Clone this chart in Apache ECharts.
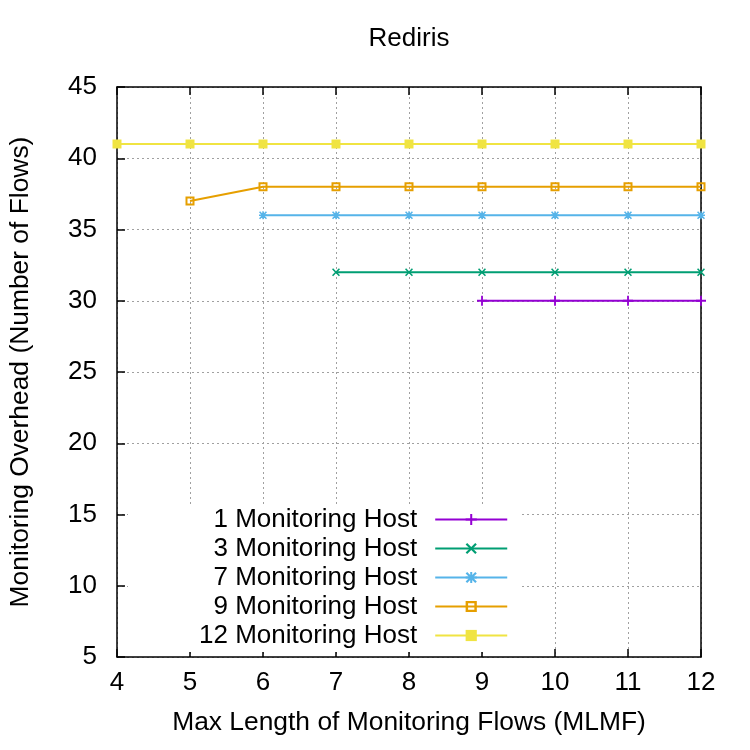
<!DOCTYPE html>
<html>
<head>
<meta charset="utf-8">
<script src="https://cdn.jsdelivr.net/npm/echarts@6/dist/echarts.min.js"></script>
<style>
  html, body { margin: 0; padding: 0; background: #fff; }
  #main { width: 750px; height: 750px; }
</style>
</head>
<body>
<div id="main"></div>
<script>
// x positions (MLMF)
var xValues = [4, 5, 6, 7, 8, 9, 10, 11, 12];
// one value per x, null where the series has no point
var host1  = [null, null, null, null, null, 30, 30, 30, 30];
var host3  = [null, null, null, 32, 32, 32, 32, 32, 32];
var host7  = [null, null, 36, 36, 36, 36, 36, 36, 36];
var host9  = [null, 37, 38, 38, 38, 38, 38, 38, 38];
var host12 = [41, 41, 41, 41, 41, 41, 41, 41, 41];
var seriesNames = ['1 Monitoring Host', '3 Monitoring Host', '7 Monitoring Host', '9 Monitoring Host', '12 Monitoring Host'];
var seriesColors = ['#9400d3', '#009e73', '#56b4e9', '#e69f00', '#f0e442'];

var FONT = '"Liberation Sans", Arial, sans-serif';

var plusPath = 'path://M4.1,0H5.9V4.1H10V5.9H5.9V10H4.1V5.9H0V4.1H4.1Z';
var crossPath = 'path://M0,1.4L1.4,0L5,3.6L8.6,0L10,1.4L6.4,5L10,8.6L8.6,10L5,6.4L1.4,10L0,8.6L3.6,5Z';
var starPath = 'path://M4.1,0H5.9V4.1H10V5.9H5.9V10H4.1V5.9H0V4.1H4.1Z M0,1.4L1.4,0L5,3.6L8.6,0L10,1.4L6.4,5L10,8.6L8.6,10L5,6.4L1.4,10L0,8.6L3.6,5Z';
var openSquarePath = 'path://M0,0H10V10H0Z M2.2,2.2V7.8H7.8V2.2Z';

function pairs(vals) {
    var out = [];
    for (var i = 0; i < xValues.length; i++) {
        if (vals[i] !== null) out.push([xValues[i], vals[i]]);
    }
    return out;
}

function makeSeries(i, vals, symbol, size) {
    return {
        name: seriesNames[i],
        type: 'line',
        data: pairs(vals),
        symbol: symbol,
        symbolSize: size,
        showAllSymbol: true,
        clip: false,
        color: seriesColors[i],
        lineStyle: { width: 2, color: seriesColors[i] },
        itemStyle: { color: seriesColors[i] },
        z: 2 + i
    };
}

var myChart = echarts.init(document.getElementById('main'));
var option = {
    backgroundColor: '#fff',
    animation: false,
    title: {
        text: 'Rediris',
        left: 409,
        top: 26,
        textAlign: 'center',
        padding: 0,
        textStyle: { fontFamily: FONT, fontSize: 26, fontWeight: 'normal', color: '#000' }
    },
    grid: { left: 117, right: 49, top: 87, bottom: 93, containLabel: false },
    legend: {
        data: seriesNames,
        orient: 'vertical',
        align: 'right',
        left: 128,
        top: 504,
        padding: [1, 12, 2, 71],
        itemGap: 0,
        itemWidth: 72,
        itemHeight: 14,
        backgroundColor: '#fff',
        z: 10,
        textStyle: { fontFamily: FONT, fontSize: 26, color: '#000', lineHeight: 29, padding: [0, 13, 0, 0] }
    },
    xAxis: [{
        type: 'value',
        min: 4,
        max: 12,
        interval: 1,
        name: 'Max Length of Monitoring Flows (MLMF)',
        nameLocation: 'middle',
        nameGap: 53,
        nameTextStyle: { fontFamily: FONT, fontSize: 26.4, color: '#000' },
        axisLine: { show: true, onZero: false, lineStyle: { color: '#000', width: 1.5 } },
        axisTick: { show: true, inside: true, length: 8, lineStyle: { color: '#000', width: 1.5 } },
        axisLabel: { fontFamily: FONT, fontSize: 26, color: '#000', margin: 13 },
        splitLine: { show: true, lineStyle: { color: '#a0a0a0', width: 1, type: [2, 3] } }
    }, {
        type: 'value',
        position: 'top',
        min: 4,
        max: 12,
        interval: 1,
        axisLine: { show: true, onZero: false, lineStyle: { color: '#000', width: 1.5 } },
        axisTick: { show: true, inside: true, length: 8, lineStyle: { color: '#000', width: 1.5 } },
        axisLabel: { show: false },
        splitLine: { show: false }
    }],
    yAxis: [{
        type: 'value',
        min: 5,
        max: 45,
        interval: 5,
        name: 'Monitoring Overhead (Number of Flows)',
        nameLocation: 'middle',
        nameGap: 83,
        nameTextStyle: { fontFamily: FONT, fontSize: 26.4, color: '#000' },
        axisLine: { show: true, onZero: false, lineStyle: { color: '#000', width: 1.5 } },
        axisTick: { show: true, inside: true, length: 8, lineStyle: { color: '#000', width: 1.5 } },
        axisLabel: { fontFamily: FONT, fontSize: 26, color: '#000', margin: 20 },
        splitLine: { show: true, lineStyle: { color: '#a0a0a0', width: 1, type: [2, 3] } }
    }, {
        type: 'value',
        position: 'right',
        min: 5,
        max: 45,
        interval: 5,
        axisLine: { show: true, onZero: false, lineStyle: { color: '#000', width: 1.5 } },
        axisTick: { show: false },
        axisLabel: { show: false },
        splitLine: { show: false }
    }],
    series: [
        makeSeries(0, host1, plusPath, 10),
        makeSeries(1, host3, crossPath, 8),
        makeSeries(2, host7, starPath, 8),
        makeSeries(3, host9, openSquarePath, 9),
        makeSeries(4, host12, 'rect', 9)
    ]
};
myChart.setOption(option);
</script>
</body>
</html>
